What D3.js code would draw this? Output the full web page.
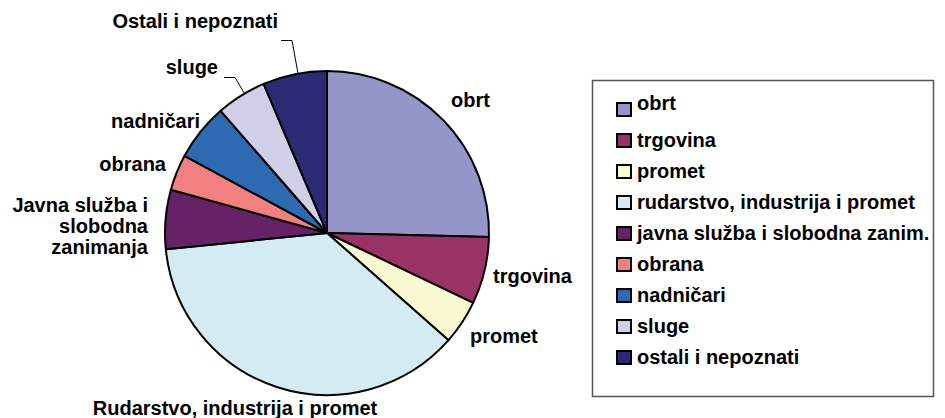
<!DOCTYPE html>
<html>
<head>
<meta charset="utf-8">
<script src="https://cdn.jsdelivr.net/npm/d3@7"></script>
<style>
  body { margin: 0; background: #fff; }
  text { font-family: "Liberation Sans", Arial, sans-serif; font-weight: bold; fill: #000; }
</style>
</head>
<body>
<div class="pie"></div>
<script>
// share of each group (%), clockwise from 12 o'clock
var categories = ["obrt", "trgovina", "promet", "rudarstvo, industrija i promet",
  "javna služba i slobodna zanim.", "obrana", "nadničari", "sluge", "ostali i nepoznati"];
var shares = [25.4, 6.7, 4.4, 36.9, 5.9, 3.6, 5.7, 5.0, 6.4];
var sliceLabels = [["obrt"], ["trgovina"], ["promet"], ["Rudarstvo, industrija i promet"],
  ["Javna služba i", "slobodna", "zanimanja"], ["obrana"], ["nadničari"], ["sluge"], ["Ostali i nepoznati"]];
var colors = ["#9595c9", "#993366", "#fafad2", "#d3ecf3", "#662266", "#f28080", "#2e6ab2", "#cfcfe8", "#2a2a75"];

var svgWidth = 945;
var svgHeight = 418;
var cx = 327, cy = 233, radius = 162;

var svg = d3.select(".pie")
    .append("svg")
    .attr("width", svgWidth)
    .attr("height", svgHeight);

var data = categories.map(function(c, i) {
  return { name: c, value: shares[i], color: colors[i], label: sliceLabels[i] };
});

var pie = d3.pie().sort(null).value(d => d.value);
var arc = d3.arc().innerRadius(0).outerRadius(radius);
var arcs = pie(data);

var pieGroup = svg.append("g")
    .attr("transform", `translate(${cx}, ${cy})`);

pieGroup.selectAll("path")
    .data(arcs)
    .enter()
    .append("path")
    .attr("d", arc)
    .attr("fill", d => d.data.color)
    .attr("stroke", "#000")
    .attr("stroke-width", 2)
    .attr("stroke-linejoin", "round");

// label placement (x, first baseline, anchor) as Excel put them
var labelPos = [
  [451, 107, "start"], [493, 283, "start"], [470, 343, "start"], [235, 415, "middle"],
  [148, 212, "end"], [166, 171, "end"], [200, 128, "end"], [218, 74, "end"], [278, 28, "end"]
];

data.forEach(function(d, i) {
  var p = labelPos[i];
  var t = svg.append("text")
      .attr("x", p[0])
      .attr("y", p[1])
      .attr("text-anchor", p[2])
      .style("font-size", "20px");
  d.label.forEach(function(line, j) {
    t.append("tspan")
        .attr("x", p[0])
        .attr("dy", j === 0 ? 0 : 21)
        .text(line);
  });
});

// leader lines for the two small top slices
var leaders = [
  { from: [281, 40.5], elbow: [292, 40.5] },
  { from: [224, 77.5], elbow: [235, 77.5] }
];
leaders.forEach(function(l) {
  // point on the rim below the elbow
  var ang = Math.atan2(l.elbow[0] - cx, -(l.elbow[1] - cy));
  var rim = [cx + radius * Math.sin(ang), cy - radius * Math.cos(ang)];
  svg.append("polyline")
      .attr("points", [l.from, l.elbow, rim].map(q => q.join(",")).join(" "))
      .attr("fill", "none")
      .attr("stroke", "#000")
      .attr("stroke-width", 1);
});

// legend
var legend = svg.append("g");
legend.append("rect")
    .attr("x", 592.5)
    .attr("y", 80.5)
    .attr("width", 341)
    .attr("height", 316)
    .attr("fill", "#fff")
    .attr("stroke", "#555")
    .attr("stroke-width", 1.5);

var rowY = d3.scaleLinear().domain([0, 1]).range([103, 134]);

var items = legend.selectAll("g.item")
    .data(data)
    .enter()
    .append("g")
    .attr("class", "item")
    .attr("transform", (d, i) => `translate(617, ${rowY(i)})`);

items.append("rect")
    .attr("width", 14)
    .attr("height", 13)
    .attr("fill", d => d.color)
    .attr("stroke", "#000")
    .attr("stroke-width", 2);

items.append("text")
    .attr("x", 20)
    .attr("y", (d, i) => i === 0 ? 6.5 : 13)
    .style("font-size", "20px")
    .text(d => d.name);
</script>
</body>
</html>
